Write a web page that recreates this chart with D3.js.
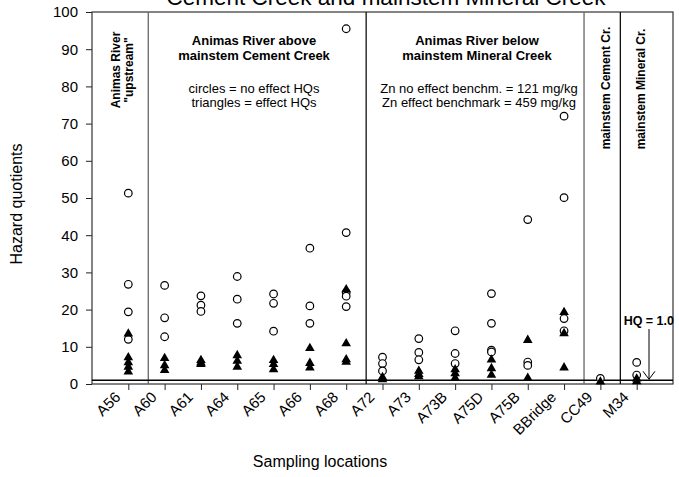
<!DOCTYPE html>
<html>
<head>
<meta charset="utf-8" />
<title>Hazard quotients</title>
<script src="https://d3js.org/d3.v7.min.js"></script>
<style>
    body { margin: 0; background: #fff; }
    svg text { font-family: "Liberation Sans", Arial, sans-serif; fill: #000; }
</style>
</head>
<body>
<div id="chart"></div>
<script>
    // sampling locations (x axis)
    const categories = ["A56", "A60", "A61", "A64", "A65", "A66", "A68", "A72", "A73",
        "A73B", "A75D", "A75B", "BBridge", "CC49", "M34"];

    // circles = no effect HQs, one list per location
    const noEffectHQ = [
        [51.3, 26.8, 19.4, 12.0],
        [26.5, 17.8, 12.7],
        [23.7, 21.2, 19.5],
        [28.9, 22.8, 16.3],
        [24.2, 21.7, 14.2],
        [36.5, 21.0, 16.3],
        [95.5, 40.7, 24.6, 23.6, 20.8],
        [7.2, 5.5, 3.5],
        [12.2, 8.5, 6.5],
        [14.3, 8.2, 5.5],
        [24.3, 16.3, 9.1, 8.6],
        [44.2, 5.9, 5.0],
        [72.0, 50.1, 17.6, 14.3],
        [1.5],
        [5.8, 2.4]
    ];

    // triangles = effect HQs
    const effectHQ = [
        [13.5, 7.1, 5.8, 4.6, 3.3],
        [6.9, 5.0, 3.7],
        [6.4, 5.7, 5.3],
        [7.7, 6.2, 4.6],
        [6.4, 5.3, 3.9],
        [9.6, 5.6, 4.4],
        [25.4, 10.9, 6.6, 5.9],
        [1.8, 1.2],
        [3.5, 2.6, 2.0],
        [3.9, 2.8, 1.6],
        [6.5, 4.2, 2.4],
        [11.8, 1.6],
        [19.3, 13.6, 4.4],
        [0.6],
        [1.4, 0.7]
    ];

    const yTicks = d3.range(0, 101, 10);
    const hqLevel = 1.0;
    // vertical dividers drawn just after these locations
    const dividersAfter = ["A56", "A68", "BBridge", "CC49"];

    const W = 679, H = 477;
    const margin = { top: 12, right: 6, bottom: 93, left: 92 };

    const svg = d3.select("#chart").append("svg")
        .attr("width", W)
        .attr("height", H);

    const x = d3.scalePoint()
        .domain(categories)
        .range([margin.left, W - margin.right])
        .padding(1);

    const y = d3.scaleLinear()
        .domain([0, 100])
        .range([H - margin.bottom, margin.top]);

    // title (only its last line shows at the top edge, as in the original figure)
    svg.append("text")
        .attr("x", 386).attr("y", 5)
        .attr("text-anchor", "middle")
        .style("font-size", "22.5px")
        .text("Cement Creek and mainstem Mineral Creek");

    // y axis
    const yAxis = svg.append("g")
        .attr("transform", `translate(${margin.left},0)`)
        .call(d3.axisLeft(y).tickValues(yTicks).tickSize(6).tickPadding(8));
    yAxis.select(".domain").remove();
    yAxis.selectAll("line").attr("stroke", "#222");
    yAxis.selectAll("text").style("font-size", "15px").style("font-family", "Liberation Sans, Arial, sans-serif");

    // x axis
    const xAxis = svg.append("g")
        .attr("transform", `translate(0,${H - margin.bottom})`)
        .call(d3.axisBottom(x).tickSize(6).tickFormat(""));
    xAxis.select(".domain").remove();
    xAxis.selectAll("line").attr("stroke", "#222");

    svg.append("g").selectAll("text")
        .data(categories)
        .join("text")
        .attr("transform", d => `translate(${x(d) - 7},${H - margin.bottom + 14}) rotate(-45)`)
        .attr("text-anchor", "end")
        .style("font-size", "15px")
        .text(d => d);

    // frame
    svg.append("rect")
        .attr("x", margin.left).attr("y", margin.top)
        .attr("width", W - margin.left - margin.right)
        .attr("height", H - margin.top - margin.bottom)
        .attr("fill", "none")
        .attr("stroke", "#333")
        .attr("stroke-width", 1.2);

    // dividers between river reaches
    svg.append("g").selectAll("line")
        .data(dividersAfter)
        .join("line")
        .attr("x1", d => x(d) + x.step() * 0.55)
        .attr("x2", d => x(d) + x.step() * 0.55)
        .attr("y1", margin.top)
        .attr("y2", H - margin.bottom)
        .attr("stroke", (d, i) => i % 2 === 0 ? "#666" : "#111")
        .attr("stroke-width", 1.3);

    // HQ = 1.0 reference line
    svg.append("line")
        .attr("x1", margin.left).attr("x2", W - margin.right)
        .attr("y1", y(hqLevel)).attr("y2", y(hqLevel))
        .attr("stroke", "#000")
        .attr("stroke-width", 1.5);

    // circles
    const circleData = [];
    categories.forEach((c, i) => noEffectHQ[i].forEach(v => circleData.push({ c, v })));
    svg.append("g").selectAll("circle")
        .data(circleData)
        .join("circle")
        .attr("cx", d => x(d.c))
        .attr("cy", d => y(d.v))
        .attr("r", 3.8)
        .attr("fill", "#fff")
        .attr("stroke", "#000")
        .attr("stroke-width", 1.2);

    // triangles
    const triData = [];
    categories.forEach((c, i) => effectHQ[i].forEach(v => triData.push({ c, v })));
    svg.append("g").selectAll("path")
        .data(triData)
        .join("path")
        .attr("d", d3.symbol(d3.symbolTriangle, 40))
        .attr("transform", d => `translate(${x(d.c)},${y(d.v)})`)
        .attr("fill", "#000");

    // annotations
    function block(lines, cx, y0, dy, bold, size) {
        svg.append("text")
            .attr("text-anchor", "middle")
            .style("font-size", size + "px")
            .style("font-weight", bold ? "bold" : "normal")
            .selectAll("tspan")
            .data(lines)
            .join("tspan")
            .attr("x", cx)
            .attr("y", (d, i) => y0 + i * dy)
            .text(d => d);
    }
    block(["Animas River above", "mainstem Cement Creek"], 254, 45, 14.5, true, 13);
    block(["circles = no effect HQs", "triangles = effect HQs"], 254, 93, 13.5, false, 13);
    block(["Animas River below", "mainstem Mineral Creek"], 477, 45, 14.5, true, 13);
    block(["Zn no effect benchm. = 121 mg/kg", "Zn effect benchmark = 459 mg/kg"], 479, 93, 13.5, false, 13);

    function vlabel(lines, bx, cy, dx) {
        svg.append("g")
            .attr("transform", `translate(${bx},${cy}) rotate(-90)`)
            .append("text")
            .attr("text-anchor", "middle")
            .style("font-size", "12px")
            .style("font-weight", "bold")
            .selectAll("tspan")
            .data(lines)
            .join("tspan")
            .attr("x", 0)
            .attr("y", (d, i) => i * dx)
            .text(d => d);
    }
    vlabel(["Animas River", "\"upstream\""], 119.5, 70, 13.5);
    vlabel(["mainstem Cement Cr."], 609.5, 88, 0);
    vlabel(["mainstem Mineral Cr."], 644.5, 89, 0);

    // HQ = 1.0 arrow
    svg.append("text")
        .attr("x", 674).attr("y", 324.5)
        .attr("text-anchor", "end")
        .style("font-size", "12.5px")
        .style("font-weight", "bold")
        .text("HQ = 1.0");
    svg.append("line")
        .attr("x1", 649).attr("x2", 649)
        .attr("y1", 329).attr("y2", y(hqLevel) - 1)
        .attr("stroke", "#000").attr("stroke-width", 1);
    svg.append("path")
        .attr("d", `M643,${y(hqLevel) - 9} L649,${y(hqLevel) - 1} L655,${y(hqLevel) - 9}`)
        .attr("fill", "none").attr("stroke", "#000").attr("stroke-width", 1);

    // axis titles
    svg.append("text")
        .attr("transform", "translate(22,204) rotate(-90)")
        .attr("text-anchor", "middle")
        .style("font-size", "16px")
        .text("Hazard quotients");
    svg.append("text")
        .attr("x", 320).attr("y", 467)
        .attr("text-anchor", "middle")
        .style("font-size", "16px")
        .text("Sampling locations");
</script>
</body>
</html>
